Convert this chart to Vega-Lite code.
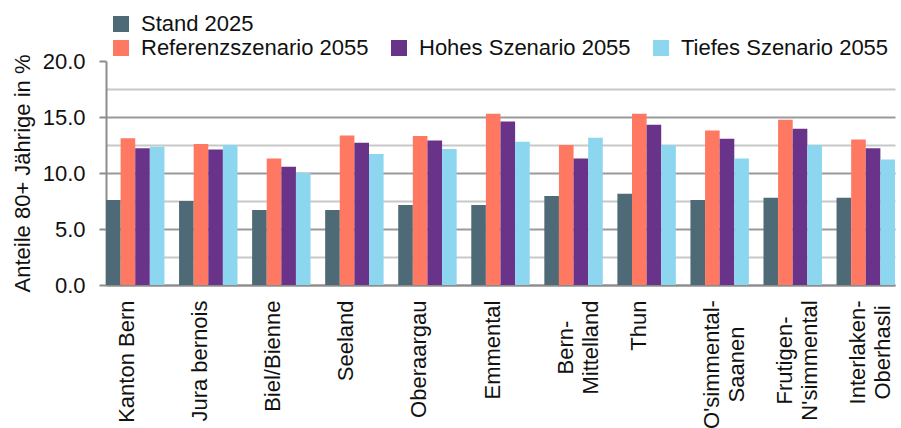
{
  "$schema": "https://vega.github.io/schema/vega-lite/v6.json",
  "width": 789,
  "height": 224,
  "autosize": {"type": "none"},
  "padding": {"left": 106, "top": 61, "right": 6, "bottom": 143},
  "background": "white",
  "config": {
    "view": {"stroke": null},
    "font": "Liberation Sans",
    "axis": {"labelFont": "Liberation Sans", "titleFont": "Liberation Sans", "labelColor": "#111", "titleColor": "#111"},
    "legend": {"labelFont": "Liberation Sans", "labelColor": "#111"}
  },
  "data": {
    "values": [
      {"region": "Kanton Bern", "series": "Stand 2025", "value": 7.6},
      {"region": "Kanton Bern", "series": "Referenzszenario 2055", "value": 13.1},
      {"region": "Kanton Bern", "series": "Hohes Szenario 2055", "value": 12.2},
      {"region": "Kanton Bern", "series": "Tiefes Szenario 2055", "value": 12.35},
      {"region": "Jura bernois", "series": "Stand 2025", "value": 7.5},
      {"region": "Jura bernois", "series": "Referenzszenario 2055", "value": 12.6},
      {"region": "Jura bernois", "series": "Hohes Szenario 2055", "value": 12.1},
      {"region": "Jura bernois", "series": "Tiefes Szenario 2055", "value": 12.5},
      {"region": "Biel/Bienne", "series": "Stand 2025", "value": 6.7},
      {"region": "Biel/Bienne", "series": "Referenzszenario 2055", "value": 11.3},
      {"region": "Biel/Bienne", "series": "Hohes Szenario 2055", "value": 10.55},
      {"region": "Biel/Bienne", "series": "Tiefes Szenario 2055", "value": 10.0},
      {"region": "Seeland", "series": "Stand 2025", "value": 6.7},
      {"region": "Seeland", "series": "Referenzszenario 2055", "value": 13.35},
      {"region": "Seeland", "series": "Hohes Szenario 2055", "value": 12.7},
      {"region": "Seeland", "series": "Tiefes Szenario 2055", "value": 11.7},
      {"region": "Oberaargau", "series": "Stand 2025", "value": 7.15},
      {"region": "Oberaargau", "series": "Referenzszenario 2055", "value": 13.3},
      {"region": "Oberaargau", "series": "Hohes Szenario 2055", "value": 12.9},
      {"region": "Oberaargau", "series": "Tiefes Szenario 2055", "value": 12.15},
      {"region": "Emmental", "series": "Stand 2025", "value": 7.15},
      {"region": "Emmental", "series": "Referenzszenario 2055", "value": 15.3},
      {"region": "Emmental", "series": "Hohes Szenario 2055", "value": 14.6},
      {"region": "Emmental", "series": "Tiefes Szenario 2055", "value": 12.8},
      {"region": "Bern-Mittelland", "series": "Stand 2025", "value": 7.95},
      {"region": "Bern-Mittelland", "series": "Referenzszenario 2055", "value": 12.5},
      {"region": "Bern-Mittelland", "series": "Hohes Szenario 2055", "value": 11.3},
      {"region": "Bern-Mittelland", "series": "Tiefes Szenario 2055", "value": 13.15},
      {"region": "Thun", "series": "Stand 2025", "value": 8.15},
      {"region": "Thun", "series": "Referenzszenario 2055", "value": 15.3},
      {"region": "Thun", "series": "Hohes Szenario 2055", "value": 14.3},
      {"region": "Thun", "series": "Tiefes Szenario 2055", "value": 12.5},
      {"region": "O'simmental-Saanen", "series": "Stand 2025", "value": 7.6},
      {"region": "O'simmental-Saanen", "series": "Referenzszenario 2055", "value": 13.8},
      {"region": "O'simmental-Saanen", "series": "Hohes Szenario 2055", "value": 13.05},
      {"region": "O'simmental-Saanen", "series": "Tiefes Szenario 2055", "value": 11.3},
      {"region": "Frutigen-N'simmental", "series": "Stand 2025", "value": 7.8},
      {"region": "Frutigen-N'simmental", "series": "Referenzszenario 2055", "value": 14.75},
      {"region": "Frutigen-N'simmental", "series": "Hohes Szenario 2055", "value": 13.95},
      {"region": "Frutigen-N'simmental", "series": "Tiefes Szenario 2055", "value": 12.5},
      {"region": "Interlaken-Oberhasli", "series": "Stand 2025", "value": 7.8},
      {"region": "Interlaken-Oberhasli", "series": "Referenzszenario 2055", "value": 13.0},
      {"region": "Interlaken-Oberhasli", "series": "Hohes Szenario 2055", "value": 12.2},
      {"region": "Interlaken-Oberhasli", "series": "Tiefes Szenario 2055", "value": 11.2}
    ]
  },
  "encoding": {
    "x": {
      "field": "region",
      "type": "nominal",
      "sort": null,
      "scale": {"paddingInner": 0.2, "paddingOuter": 0},
      "axis": {
        "title": null,
        "labelAngle": -90,
        "labelFontSize": 22,
        "labelLineHeight": 25,
        "labelOffset": -8,
        "labelLimit": 0,
        "ticks": false,
        "tickSize": 0,
        "domainColor": "#8c8c8c",
        "domainWidth": 2,
        "labelExpr": "indexof(datum.value, '-') > 0 ? [slice(datum.value, 0, indexof(datum.value, '-') + 1), slice(datum.value, indexof(datum.value, '-') + 1)] : datum.value",
        "labelAlign": {"condition": {"test": "indexof(datum.value, '-') > 0", "value": "center"}, "value": "right"},
        "labelPadding": {
          "condition": [
            {"test": "datum.value === 'Bern-Mittelland'", "value": 62},
            {"test": "datum.value === \"O'simmental-Saanen\"", "value": 79},
            {"test": "datum.value === \"Frutigen-N'simmental\"", "value": 75},
            {"test": "datum.value === 'Interlaken-Oberhasli'", "value": 67}
          ],
          "value": 15
        }
      }
    },
    "xOffset": {
      "field": "series",
      "type": "nominal",
      "sort": ["Stand 2025", "Referenzszenario 2055", "Hohes Szenario 2055", "Tiefes Szenario 2055"],
      "scale": {"domain": ["Stand 2025", "Referenzszenario 2055", "Hohes Szenario 2055", "Tiefes Szenario 2055"], "paddingInner": 0, "paddingOuter": 0}
    },
    "y": {
      "field": "value",
      "type": "quantitative",
      "scale": {"domain": [0, 20], "nice": false},
      "axis": {
        "title": "Anteile 80+ Jährige in %",
        "titleFontSize": 22,
        "titleFontWeight": "normal",
        "titlePadding": 8,
        "labelFontSize": 22,
        "labelPadding": 14,
        "values": [0, 2.5, 5, 7.5, 10, 12.5, 15, 17.5, 20],
        "labelExpr": "datum.value % 5 === 0 ? format(datum.value, '.1f') : ''",
        "tickSize": 7,
        "tickWidth": 2,
        "tickColor": "#8c8c8c",
        "tickOpacity": {"condition": {"test": "datum.value % 5 === 0", "value": 1}, "value": 0},
        "domainColor": "#8c8c8c",
        "domainWidth": 2,
        "grid": true,
        "gridWidth": 2,
        "gridColor": {"condition": {"test": "datum.value % 5 === 0", "value": "#9a9a9a"}, "value": "#c8c8c8"},
        "gridOpacity": {"condition": {"test": "datum.value >= 20", "value": 0}, "value": 1}
      }
    }
  },
  "layer": [
    {
      "transform": [{"filter": "datum.series === 'Stand 2025'"}],
      "mark": {"type": "bar"},
      "encoding": {
        "color": {
          "field": "series",
          "type": "nominal",
          "scale": {"domain": ["Stand 2025"], "range": ["#4e6a77"]},
          "legend": {
            "title": null,
            "orient": "none",
            "legendX": 4,
            "legendY": -48,
            "direction": "horizontal",
            "padding": 0,
            "symbolType": "square",
            "symbolSize": 256,
            "symbolStrokeWidth": 0,
            "labelFontSize": 22,
            "labelOffset": 9,
            "labelLimit": 0
          }
        }
      }
    },
    {
      "transform": [{"filter": "datum.series !== 'Stand 2025'"}],
      "mark": {"type": "bar"},
      "encoding": {
        "color": {
          "field": "series",
          "type": "nominal",
          "scale": {"domain": ["Referenzszenario 2055", "Hohes Szenario 2055", "Tiefes Szenario 2055"], "range": ["#ff7862", "#69338a", "#8cd7ef"]},
          "legend": {
            "title": null,
            "orient": "none",
            "legendX": 4,
            "legendY": -24,
            "direction": "horizontal",
            "columns": 3,
            "columnPadding": 19,
            "gridAlign": "none",
            "padding": 0,
            "symbolType": "square",
            "symbolSize": 256,
            "symbolStrokeWidth": 0,
            "labelFontSize": 22,
            "labelOffset": 9,
            "labelLimit": 0
          }
        }
      }
    }
  ],
  "resolve": {"scale": {"color": "independent"}, "legend": {"color": "independent"}}
}
